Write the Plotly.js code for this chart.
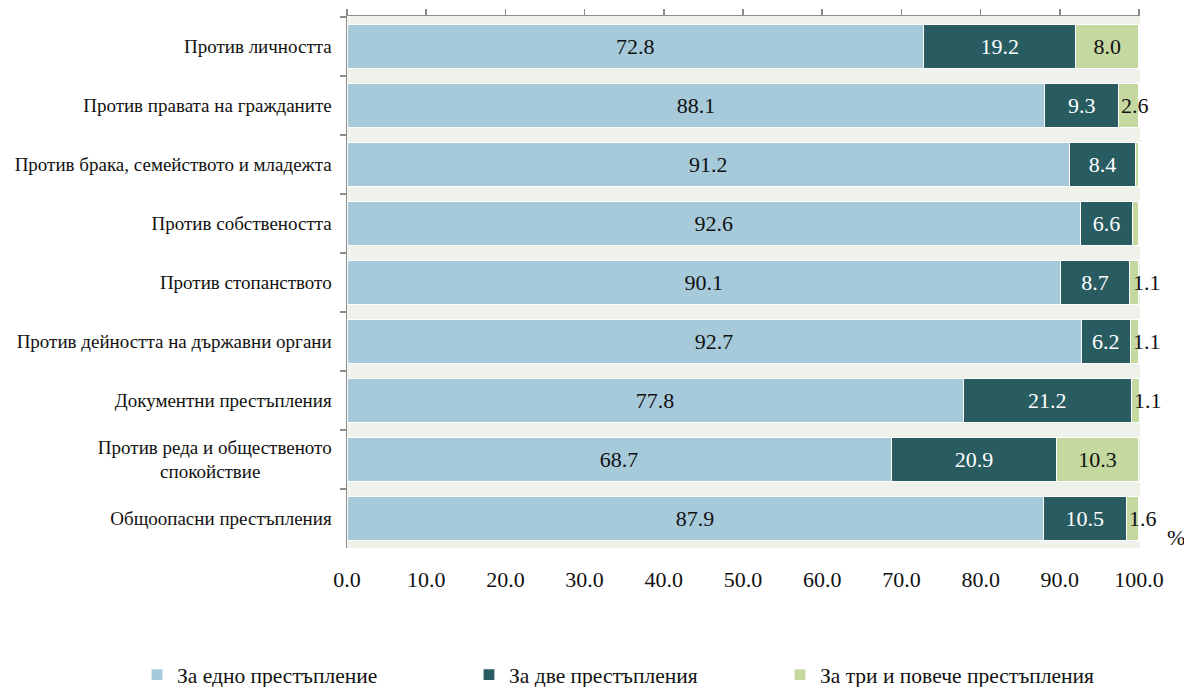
<!DOCTYPE html>
<html>
<head>
<meta charset="utf-8">
<script src="https://cdn.plot.ly/plotly-3.0.1.min.js"></script>
<style>html,body{margin:0;padding:0;background:#fff}#chart{width:1184px;height:687px}</style>
</head>
<body>
<div id="chart"></div>
<script>
const categories = [
  'Против личността',
  'Против правата на гражданите',
  'Против брака, семейството и младежта',
  'Против собствеността',
  'Против стопанството',
  'Против дейността на държавни органи',
  'Документни престъпления',
  'Против реда и общественото<br>спокойствие\u00a0\u00a0\u00a0\u00a0\u00a0\u00a0\u00a0\u00a0\u00a0\u00a0\u00a0\u00a0\u00a0\u00a0\u00a0',
  'Общоопасни престъпления'
];
const seriesNames = ['За едно престъпление', 'За две престъпления', 'За три и повече престъпления'];
const oneCrime = [72.8, 88.1, 91.2, 92.6, 90.1, 92.7, 77.8, 68.7, 87.9];
const twoCrimes = [19.2, 9.3, 8.4, 6.6, 8.7, 6.2, 21.2, 20.9, 10.5];
const threePlus = [8.0, 2.6, 0.4, 0.8, 1.1, 1.1, 1.1, 10.3, 1.6];
const xTickVals = [0, 10, 20, 30, 40, 50, 60, 70, 80, 90, 100];
const xTickText = ['0.0','10.0','20.0','30.0','40.0','50.0','60.0','70.0','80.0','90.0','100.0'];

const FONT = 'Liberation Serif, Times New Roman, serif';
const colors = ['#A7CADB', '#285C61', '#C5D8A0'];
const textColors = ['#111', '#fff', '#111'];
const values = [oneCrime, twoCrimes, threePlus];
const X_MAX = 100.12;
const SMALL = 3;   // labels of narrower segments are written from the segment start

const traces = values.map((vals, i) => ({
  type: 'bar',
  orientation: 'h',
  name: seriesNames[i],
  y: categories,
  x: vals,
  width: 0.75,
  marker: {color: colors[i], line: {color: '#fff', width: 1.2}},
  text: vals.map(v => (i < 2 || v >= SMALL) ? v.toFixed(1) : ''),
  textposition: 'inside',
  insidetextanchor: 'middle',
  textangle: 0,
  constraintext: 'none',
  cliponaxis: false,
  textfont: {family: FONT, size: 22, color: textColors[i]},
  hoverinfo: 'none',
  legend: i === 0 ? 'legend' : 'legend' + (i + 1)
}));

// invisible trace for the top decorative axis
traces.push({
  type: 'scatter', x: [0, 100], y: [categories[0], categories[0]],
  xaxis: 'x2', mode: 'markers', marker: {opacity: 0}, showlegend: false, hoverinfo: 'none'
});

const smallLabels = [];
threePlus.forEach((v, k) => {
  if (v >= 1 && v < SMALL) {
    smallLabels.push({
      text: v.toFixed(1), xref: 'x', yref: 'y', x: oneCrime[k] + twoCrimes[k], y: categories[k],
      xanchor: 'left', yanchor: 'middle', xshift: 1, showarrow: false,
      font: {family: FONT, size: 22, color: '#111'}
    });
  }
});

const legendBase = {
  orientation: 'h', xref: 'container', yref: 'container',
  y: 0.018, yanchor: 'middle', xanchor: 'left',
  font: {family: FONT, size: 21.5, color: '#111'},
  bgcolor: 'rgba(0,0,0,0)'
};

const layout = {
  width: 1184, height: 687,
  margin: {l: 347, r: 44, t: 16, b: 139},
  paper_bgcolor: '#fff',
  plot_bgcolor: '#EFF2EA',
  barmode: 'stack',
  bargap: 0.25,
  font: {family: FONT, color: '#111'},
  xaxis: {
    range: [0, X_MAX], tickvals: xTickVals, ticktext: xTickText,
    showgrid: false, zeroline: false, showline: false,
    ticks: 'outside', ticklen: 12, tickcolor: 'rgba(0,0,0,0)',
    tickfont: {family: FONT, size: 22, color: '#111'}
  },
  xaxis2: {
    overlaying: 'x', side: 'top', anchor: 'y', range: [0, X_MAX], tickvals: xTickVals,
    showgrid: false, zeroline: false, showline: true, linecolor: '#8c8c8c', linewidth: 1.5,
    ticks: 'outside', ticklen: 6, tickcolor: '#8c8c8c', tickwidth: 1.5, showticklabels: false
  },
  yaxis: {
    type: 'category', autorange: 'reversed',
    showgrid: false, zeroline: false, showline: true, linecolor: '#8c8c8c', linewidth: 1.5,
    ticks: 'outside', tickson: 'boundaries', ticklen: 6, tickcolor: '#8c8c8c', tickwidth: 1.5,
    ticklabelstandoff: 10,
    tickfont: {family: FONT, size: 19, color: '#111'}
  },
  legend: Object.assign({}, legendBase, {x: 137 / 1184}),
  legend2: Object.assign({}, legendBase, {x: 469 / 1184}),
  legend3: Object.assign({}, legendBase, {x: 780 / 1184}),
  annotations: smallLabels.concat([{
    text: '%', xref: 'paper', yref: 'paper', x: 1.045, y: 0.02, xanchor: 'center', yanchor: 'middle',
    showarrow: false, font: {family: FONT, size: 22, color: '#111'}
  }])
};

Plotly.newPlot('chart', traces, layout, {displayModeBar: false, staticPlot: true});
</script>
</body>
</html>
